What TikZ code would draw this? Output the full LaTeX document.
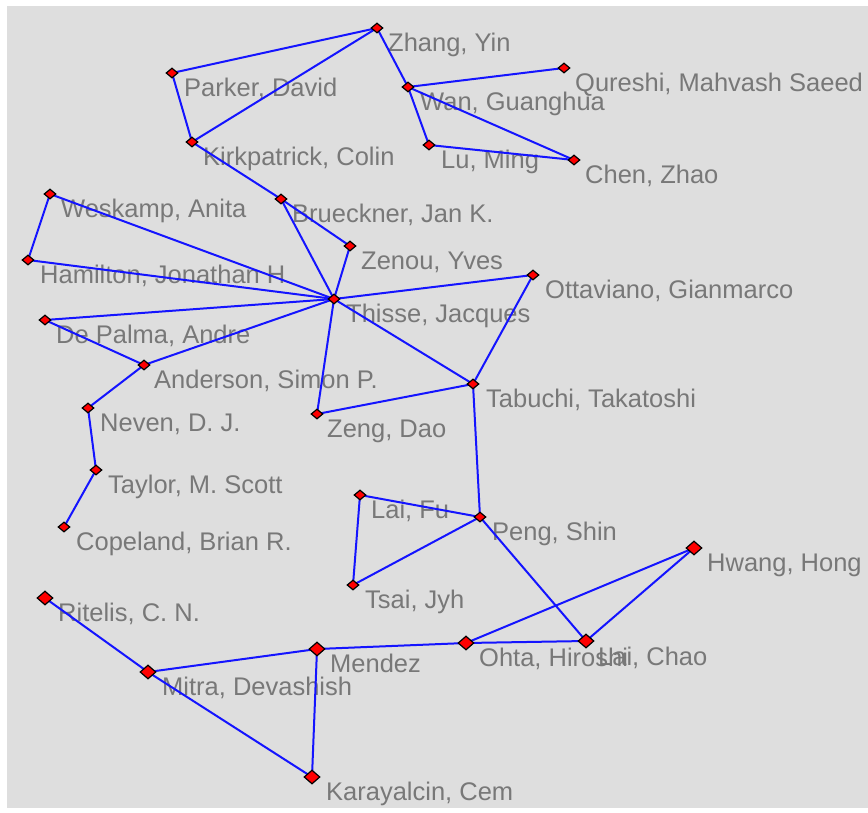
\documentclass[tikz,border=0pt]{standalone}
\usepackage{fontspec}
\setmainfont{Liberation Sans}
\usetikzlibrary{shapes.geometric}
\pgfdeclarelayer{back}
\pgfdeclarelayer{labs}
\pgfdeclarelayer{edges}
\pgfsetlayers{back,labs,edges,main}
\definecolor{bgc}{RGB}{222,222,222}
\definecolor{txt}{RGB}{120,120,120}
\definecolor{edge}{RGB}{20,20,255}
\tikzset{
  dot/.style={diamond, draw=black, fill=red, line width=1.2pt, inner sep=0pt,
              minimum width=12pt, minimum height=10pt},
  bigdot/.style={dot, minimum width=16pt, minimum height=14pt},
  lab/.style={anchor=base west, inner sep=0pt, text=txt,
              font=\fontsize{25.5}{30}\selectfont},
  link/.style={draw=edge, line width=2pt}
}
\begin{document}
\begin{tikzpicture}[x=1pt, y=-1pt]
\useasboundingbox (0,0) rectangle (868,812);
\begin{pgfonlayer}{back}
\fill[white] (0,0) rectangle (868,812);
\fill[bgc] (7,6) rectangle (868,808);
\end{pgfonlayer}

% nodes
\node[dot] (zhang) at (377,28) {};
\node[dot] (parker) at (172,73) {};
\node[dot] (kirk) at (192,142) {};
\node[dot] (qureshi) at (564,68) {};
\node[dot] (wan) at (408,87) {};
\node[dot] (lu) at (429,145) {};
\node[dot] (chen) at (574,160) {};
\node[dot] (weskamp) at (50,194) {};
\node[dot] (brueckner) at (281,199) {};
\node[dot] (zenou) at (350,246) {};
\node[dot] (hamilton) at (28,260) {};
\node[dot] (ottaviano) at (533,275) {};
\node[dot] (thisse) at (334,299) {};
\node[dot] (depalma) at (45,320) {};
\node[dot] (anderson) at (144,365) {};
\node[dot] (tabuchi) at (473,384) {};
\node[dot] (neven) at (88,408) {};
\node[dot] (zeng) at (317,414) {};
\node[dot] (taylor) at (96,470) {};
\node[dot] (laifu) at (360,495) {};
\node[dot] (peng) at (480,517) {};
\node[dot] (copeland) at (64,527) {};
\node[bigdot] (hwang) at (694,548) {};
\node[dot] (tsai) at (353,585) {};
\node[bigdot] (ritelis) at (45,598) {};
\node[bigdot] (ohta) at (466,643) {};
\node[bigdot] (laichao) at (586,641) {};
\node[bigdot] (mendez) at (317,649) {};
\node[bigdot] (mitra) at (148,672) {};
\node[bigdot] (karayalcin) at (312,777) {};

% labels
\begin{pgfonlayer}{labs}
\node[lab] (lzhang) at (388,51) {Zhang, Yin};
\node[lab] (lparker) at (184,96) {Parker, David};
\node[lab] (lkirk) at (203,165) {Kirkpatrick, Colin};
\node[lab] (lqureshi) at (575,91) {Qureshi, Mahvash Saeed};
\node[lab] (lwan) at (420,110) {Wan, Guanghua};
\node[lab] (llu) at (441,168) {Lu, Ming};
\node[lab] (lchen) at (585,183) {Chen, Zhao};
\node[lab] (lweskamp) at (61,217) {Weskamp, Anita};
\node[lab] (lbrueckner) at (292,222) {Brueckner, Jan K.};
\node[lab] (lzenou) at (361,269) {Zenou, Yves};
\node[lab] (lhamilton) at (40,283) {Hamilton, Jonathan H};
\node[lab] (lottaviano) at (545,298) {Ottaviano, Gianmarco};
\node[lab] (lthisse) at (346,322) {Thisse, Jacques};
\node[lab] (ldepalma) at (56,343) {De Palma, Andre};
\node[lab] (landerson) at (154,388) {Anderson, Simon P.};
\node[lab] (ltabuchi) at (486,407) {Tabuchi, Takatoshi};
\node[lab] (lneven) at (100,431) {Neven, D. J.};
\node[lab] (lzeng) at (327,437) {Zeng, Dao};
\node[lab] (ltaylor) at (108,493) {Taylor, M. Scott};
\node[lab] (llaifu) at (371,518) {Lai, Fu};
\node[lab] (lpeng) at (492,540) {Peng, Shin};
\node[lab] (lcopeland) at (76,550) {Copeland, Brian R.};
\node[lab] (lhwang) at (707,571) {Hwang, Hong};
\node[lab] (ltsai) at (365,608) {Tsai, Jyh};
\node[lab] (lritelis) at (58,621) {Ritelis, C. N.};
\node[lab] (lohta) at (479,666) {Ohta, Hiroshi};
\node[lab] (llaichao) at (598,665) {Lai, Chao};
\node[lab] (lmendez) at (330,672) {Mendez};
\node[lab] (lmitra) at (162,695) {Mitra, Devashish};
\node[lab] (lkarayalcin) at (326,800) {Karayalcin, Cem};
\end{pgfonlayer}

% edges
\begin{pgfonlayer}{edges}
\draw[link] (zhang.center) -- (parker.center);
\draw[link] (zhang.center) -- (kirk.center);
\draw[link] (zhang.center) -- (wan.center);
\draw[link] (parker.center) -- (kirk.center);
\draw[link] (kirk.center) -- (brueckner.center);
\draw[link] (wan.center) -- (qureshi.center);
\draw[link] (wan.center) -- (lu.center);
\draw[link] (wan.center) -- (chen.center);
\draw[link] (lu.center) -- (chen.center);
\draw[link] (brueckner.center) -- (thisse.center);
\draw[link] (brueckner.center) -- (zenou.center);
\draw[link] (zenou.center) -- (thisse.center);
\draw[link] (weskamp.center) -- (hamilton.center);
\draw[link] (weskamp.center) -- (thisse.center);
\draw[link] (hamilton.center) -- (thisse.center);
\draw[link] (depalma.center) -- (thisse.center);
\draw[link] (depalma.center) -- (anderson.center);
\draw[link] (anderson.center) -- (thisse.center);
\draw[link] (anderson.center) -- (neven.center);
\draw[link] (neven.center) -- (taylor.center);
\draw[link] (taylor.center) -- (copeland.center);
\draw[link] (thisse.center) -- (ottaviano.center);
\draw[link] (thisse.center) -- (tabuchi.center);
\draw[link] (thisse.center) -- (zeng.center);
\draw[link] (ottaviano.center) -- (tabuchi.center);
\draw[link] (zeng.center) -- (tabuchi.center);
\draw[link] (tabuchi.center) -- (peng.center);
\draw[link] (laifu.center) -- (peng.center);
\draw[link] (laifu.center) -- (tsai.center);
\draw[link] (tsai.center) -- (peng.center);
\draw[link] (peng.center) -- (laichao.center);
\draw[link] (hwang.center) -- (ohta.center);
\draw[link] (hwang.center) -- (laichao.center);
\draw[link] (ohta.center) -- (laichao.center);
\draw[link] (ohta.center) -- (mendez.center);
\draw[link] (mendez.center) -- (mitra.center);
\draw[link] (mendez.center) -- (karayalcin.center);
\draw[link] (mitra.center) -- (ritelis.center);
\draw[link] (mitra.center) -- (karayalcin.center);
\end{pgfonlayer}
\end{tikzpicture}
\end{document}
